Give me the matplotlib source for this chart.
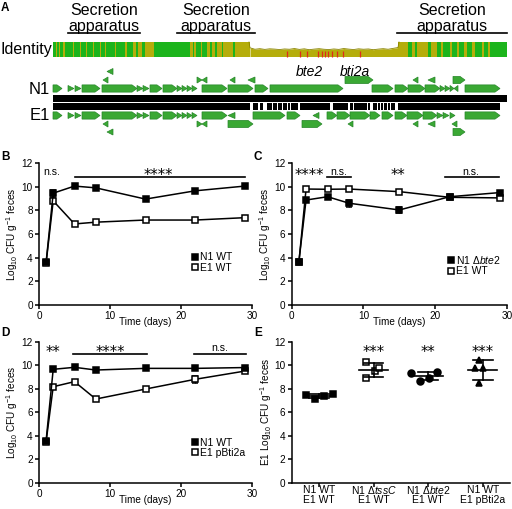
import numpy as np
import matplotlib.pyplot as plt
import matplotlib.transforms as mtransforms
from matplotlib.patches import Polygon, Rectangle
from matplotlib.lines import Line2D

plt.rcParams['font.family'] = ['Liberation Sans', 'DejaVu Sans']
plt.rcParams['mathtext.fontset'] = 'custom'
plt.rcParams['mathtext.rm'] = 'Liberation Sans'
plt.rcParams['mathtext.it'] = 'Liberation Sans:italic'
plt.rcParams['mathtext.bf'] = 'Liberation Sans:bold'

# ---------------- data: panel A (locus coordinates, arbitrary units 0-454)
locus_len = 454
n1_len = 454
e1_len = 447
secretion_spans = [(15, 87), (124, 202), (344, 454)]

# (start, end, strand)
n1_main = [(0, 9, 1), (15, 21, 1), (22, 28, 1), (29, 47, 1), (49, 84, 1), (84, 90, 1), (90, 96, 1),
           (97, 109, 1), (110, 124, 1), (124, 129, 1), (129, 134, 1), (134, 139, 1), (139, 144, 1),
           (149, 174, 1), (175, 200, 1), (202, 215, 1), (217, 290, 1), (319, 340, 1), (342, 355, 1),
           (355, 372, 1), (372, 387, 1), (387, 392, 1), (392, 397, 1), (397, 401, 1), (401, 405, -1),
           (412, 447, 1)]
n1_upper = [(50, 55, -1), (144, 149, 1), (149, 154, -1), (177, 182, -1), (195, 202, -1),
            (292, 320, 1), (360, 365, -1), (375, 382, -1), (400, 412, 1)]
n1_upper2 = [(54, 60, -1)]
e1_main = [(0, 9, 1), (15, 21, 1), (22, 28, 1), (29, 47, 1), (49, 84, 1), (84, 90, 1), (90, 96, 1),
           (97, 109, 1), (110, 124, 1), (124, 129, 1), (129, 134, 1), (134, 139, 1), (139, 144, 1),
           (149, 174, 1), (175, 182, -1), (200, 232, 1), (234, 247, 1), (260, 266, -1), (274, 284, 1),
           (284, 297, 1), (297, 317, 1), (317, 327, 1), (329, 340, 1), (342, 354, 1), (354, 370, 1),
           (370, 384, 1), (384, 390, 1), (390, 396, 1), (397, 402, 1), (412, 447, 1)]
e1_lower = [(50, 55, -1), (144, 149, 1), (149, 154, -1), (175, 200, 1), (249, 269, 1), (295, 300, -1),
            (360, 365, -1), (375, 382, -1), (399, 404, -1)]
e1_lower2 = [(54, 60, -1), (400, 412, 1)]
e1_gaps = [(197, 200), (205, 207), (210, 214), (219, 220), (224, 225), (229, 230), (234, 235),
           (237, 238), (245, 247), (277, 280), (295, 297), (300, 301), (314, 315), (317, 320),
           (324, 325), (327, 328), (330, 331), (334, 335), (337, 338), (342, 345)]

# identity track
green_spans = [(0, 2.5), (3.5, 6), (7, 10.3), (12, 20.3), (21.3, 26.5), (27.5, 32.5), (33.5, 39.5),
               (40.5, 46.5), (47.5, 51.5), (52.5, 61.5), (62.5, 72), (74, 80), (83, 85), (89, 92),
               (101, 137), (140, 141), (143, 148), (149, 154), (157, 159), (162, 164), (169, 170),
               (180, 182), (355.3, 358.7), (362, 364.3), (375.3, 377.7), (383.7, 388), (390.3, 397),
               (398.7, 403.7), (406.3, 411), (413.7, 418.7), (422, 428.7), (431, 435.3), (437, 454)]
low_start, low_end = 197, 345
low_identity = [60, 50, 54, 49, 53, 51, 48, 52, 50, 55, 49, 53, 47, 51, 54, 50, 48, 52, 49, 55,
                51, 48, 53, 50, 52, 47, 51, 54, 50, 56, 62]
red_sites = [234, 247, 254, 265, 269, 272, 275, 279, 284, 290, 307]

# ---------------- data: panels B-D
days = [1, 2, 5, 8, 15, 22, 29]
b_n1 = [3.6, 9.45, 10.05, 9.9, 8.95, 9.65, 10.05]
b_n1_err = [0.05, 0.3, 0.1, 0.1, 0.1, 0.1, 0.1]
b_e1 = [3.55, 8.8, 6.85, 7.0, 7.18, 7.18, 7.38]
b_e1_err = [0.05, 0.15, 0.1, 0.1, 0.1, 0.1, 0.1]

c_n1 = [3.66, 8.87, 9.15, 8.6, 8.03, 9.15, 9.5]
c_n1_err = [0.05, 0.1, 0.1, 0.3, 0.25, 0.1, 0.1]
c_e1 = [3.6, 9.8, 9.78, 9.8, 9.58, 9.1, 9.05]
c_e1_err = [0.05, 0.05, 0.05, 0.05, 0.05, 0.1, 0.1]

d_n1 = [3.57, 9.65, 9.82, 9.59, 9.73, 9.73, 9.8]
d_n1_err = [0.05, 0.05, 0.05, 0.05, 0.05, 0.05, 0.15]
d_e1 = [3.5, 8.17, 8.6, 7.12, 7.97, 8.8, 9.5]
d_e1_err = [0.05, 0.1, 0.1, 0.1, 0.1, 0.3, 0.2]

# ---------------- data: panel E
e_strain_n1 = ['N1 WT', 'N1 Δ$\\mathit{tssC}$', 'N1 Δ$\\mathit{bte2}$', 'N1 WT']
e_strain_e1 = ['E1 WT', 'E1 WT', 'E1 WT', 'E1 pBti2a']
e_values = [[7.46, 7.1, 7.38, 7.52],
            [10.25, 8.88, 9.5, 9.73],
            [9.31, 8.68, 8.94, 9.39],
            [10.44, 9.73, 9.73, 8.46]]
e_jitter = [[-0.24, -0.07, 0.09, 0.26],
            [-0.13, -0.13, 0.02, 0.1],
            [-0.32, -0.15, 0.02, 0.16],
            [-0.07, -0.14, 0.01, -0.07]]
e_stars = ['', '***', '**', '***']

OLIVE = '#b5ad0b'
GREEN = '#1cb41c'
GENE = '#3aa834'
GENE_EDGE = '#27862a'

fig = plt.figure(figsize=(5.12, 5.09), dpi=100)


def px(x, y):
    return x / 512, 1 - y / 509


# ---------------- panel A
ax = fig.add_axes([0, 1 - 140 / 509, 1, 140 / 509])
ax.set_xlim(-53, 459)
ax.set_ylim(140, 0)
ax.axis('off')

for s, e in secretion_spans:
    ax.plot([s, e], [33, 33], color='k', lw=1.2)
    c = (s + e) / 2 if e < 400 else 399
    ax.text(c, 10.5, 'Secretion', ha='center', va='center', fontsize=11.5)
    ax.text(c, 26.5, 'apparatus', ha='center', va='center', fontsize=11.5)

# identity
bar_top, bar_bot = 42, 56.5
ax.add_patch(Rectangle((0, bar_top), low_start, bar_bot - bar_top, color=OLIVE, lw=0))
ax.add_patch(Rectangle((low_end, bar_top), locus_len - low_end, bar_bot - bar_top, color=OLIVE, lw=0))
lx = np.linspace(low_start, low_end, len(low_identity))
ly = bar_bot - (bar_bot - bar_top) * np.array(low_identity) / 100
ax.fill_between(lx, bar_bot, ly, color=OLIVE, lw=0)
ax.plot(np.r_[low_start - 1, lx, low_end + 1], np.r_[bar_top, ly, bar_top], color='#8a8400', lw=0.6)
for s, e in green_spans:
    ax.add_patch(Rectangle((s, bar_top), e - s, bar_bot - bar_top, color=GREEN, lw=0))
ax.vlines(red_sites, 51, bar_bot, color='#e02a1a', lw=0.9)
ax.text(-1, 49.5, 'Identity', ha='right', va='center', fontsize=11.5)

# sequence bars
ax.add_patch(Rectangle((0, 95), n1_len, 6.5, color='k', lw=0))
ax.add_patch(Rectangle((0, 103), e1_len, 7, color='k', lw=0))
for s, e in e1_gaps:
    ax.add_patch(Rectangle((s, 103), e - s, 7, color='white', lw=0))
ax.text(-3, 89, 'N1', ha='right', va='center', fontsize=12)
ax.text(-3, 116, 'E1', ha='right', va='center', fontsize=12)


def draw_genes(genes, yc):
    for s, e, strand in genes:
        L = e - s
        if L <= 8:
            h, head = 6.0, L
        else:
            h, head = 7.2, 5.0
        if strand > 0:
            xs = [s, e - head, e, e - head, s]
        else:
            xs = [e, s + head, s, s + head, e]
        ys = [yc - h / 2, yc - h / 2, yc, yc + h / 2, yc + h / 2]
        ax.add_patch(Polygon(list(zip(xs, ys)), closed=True, fc=GENE, ec=GENE_EDGE, lw=0.5))


draw_genes(n1_upper2, 71.5)
draw_genes(n1_upper, 80)
draw_genes(n1_main, 88.5)
draw_genes(e1_main, 115.5)
draw_genes(e1_lower, 124)
draw_genes(e1_lower2, 132)
ax.text(256, 72, 'bte2', ha='center', va='center', fontsize=10, style='italic')
ax.text(302, 72, 'bti2a', ha='center', va='center', fontsize=10, style='italic')

# ---------------- panels B-E
YLAB = 'Log$_{10}$ CFU g$^{-1}$ feces'


def style_axes(a):
    for sp in ['top', 'right']:
        a.spines[sp].set_visible(False)
    for sp in ['left', 'bottom']:
        a.spines[sp].set_linewidth(1.1)
    a.tick_params(length=3, width=1.1, labelsize=7.2, pad=1.5)
    a.set_ylim(0, 12)
    a.set_yticks(range(0, 13, 2))


def sig(a, x, y, s):
    if '*' in s:
        a.text(x, y - 0.4, s, ha='center', va='baseline', fontsize=10.5, family='DejaVu Sans')
    else:
        a.text(x, y, s, ha='center', va='baseline', fontsize=7.6)


def time_panel(rect, n1, n1_err, e1, e1_err, n1_lab, e1_lab, leg_xy, bars, marks):
    a = fig.add_axes(rect)
    a.errorbar(days, e1, yerr=e1_err, color='k', marker='s', mfc='white', mec='k', ms=4.6,
               mew=1.1, lw=1.1, capsize=2, elinewidth=1)
    a.errorbar(days, n1, yerr=n1_err, color='k', marker='s', mfc='k', mec='k', ms=4.6,
               mew=1.1, lw=1.1, capsize=2, elinewidth=1)
    style_axes(a)
    a.set_xlim(0, 30)
    a.set_xticks([0, 10, 20, 30])
    a.set_xlabel('Time (days)', fontsize=7.2)
    a.set_ylabel(YLAB, fontsize=7.2)
    a.xaxis.set_label_coords(0.5, -0.085)
    a.yaxis.set_label_coords(-0.088, 0.5)
    handles = [Line2D([], [], ls='none', marker='s', mfc='k', mec='k', ms=5, mew=1.1),
               Line2D([], [], ls='none', marker='s', mfc='white', mec='k', ms=5, mew=1.1)]
    a.legend(handles, [n1_lab, e1_lab], loc='upper left', bbox_to_anchor=leg_xy, frameon=False,
             fontsize=7.5, handlelength=0.6, handletextpad=0.15, borderpad=0, borderaxespad=0,
             labelspacing=0.05)
    for x0, x1, yv in bars:
        a.plot([x0, x1], [yv, yv], color='k', lw=1.2, clip_on=False)
    for x, yv, s in marks:
        sig(a, x, yv, s)
    return a


time_panel([39 / 512, 1 - 305 / 509, 213 / 512, 142 / 509], b_n1, b_n1_err, b_e1, b_e1_err,
           'N1 WT', 'E1 WT', (0.72, 0.37),
           [(5, 29, 10.8)], [(1.8, 10.99, 'n.s.'), (16.8, 10.95, '****')])
time_panel([291.7 / 512, 1 - 305 / 509, 215.3 / 512, 142 / 509], c_n1, c_n1_err, c_e1, c_e1_err,
           'N1 Δ$\\mathit{bte2}$', 'E1 WT', (0.725, 0.36),
           [(4.9, 8.2, 10.8), (21.4, 28.9, 10.8)],
           [(2.5, 10.95, '****'), (6.5, 10.99, 'n.s.'), (14.85, 10.95, '**'), (25, 10.99, 'n.s.')])
time_panel([39 / 512, 1 - 482.7 / 509, 213 / 512, 141 / 509], d_n1, d_n1_err, d_e1, d_e1_err,
           'N1 WT', 'E1 pBti2a', (0.72, 0.32),
           [(4.8, 15.2, 10.95), (21.8, 29.2, 10.95)],
           [(2.0, 11.1, '**'), (10, 11.1, '****'), (25.5, 11.2, 'n.s.')])

# panel E
ae = fig.add_axes([291.7 / 512, 1 - 482.7 / 509, 218.3 / 512, 141 / 509])
style_axes(ae)
markers = [dict(marker='s', mfc='k'), dict(marker='s', mfc='white'),
           dict(marker='o', mfc='k'), dict(marker='^', mfc='k')]
for i, vals in enumerate(e_values):
    vals = np.array(vals)
    xs = i + np.array(e_jitter[i])
    ae.plot(xs, vals, ls='none', mec='k', ms=5, mew=1.1, color='k', **markers[i])
    m, sd = vals.mean(), vals.std(ddof=1)
    ae.plot([i - 0.27, i + 0.27], [m, m], color='k', lw=1.2)
    ae.plot([i - 0.18, i + 0.18], [m + sd, m + sd], color='k', lw=1.2)
    ae.plot([i - 0.18, i + 0.18], [m - sd, m - sd], color='k', lw=1.2)
    ae.plot([i, i], [m - sd, m + sd], color='k', lw=1.2)
    if e_stars[i]:
        sig(ae, i, 11.1, e_stars[i])
ae.set_xlim(-0.5, 3.5)
ae.set_xticks(range(4))
ae.set_xticklabels([])
tr = mtransforms.blended_transform_factory(ae.transData, ae.transAxes)
for i in range(4):
    ae.text(i, -0.052, e_strain_n1[i], transform=tr, ha='center', va='center', fontsize=7.5)
    ae.text(i, -0.125, e_strain_e1[i], transform=tr, ha='center', va='center', fontsize=7.5)
ae.set_ylabel('E1 ' + YLAB, fontsize=7.2)
ae.yaxis.set_label_coords(-0.08, 0.5)

# panel letters
for lab, (x, y) in {'A': (1, 2), 'B': (1, 151), 'C': (253, 151), 'D': (1, 327), 'E': (254, 327)}.items():
    fig.text(*px(x, y), lab, fontsize=8.5, fontweight='bold', va='top', ha='left')

fig.savefig('out.png', dpi=100)
